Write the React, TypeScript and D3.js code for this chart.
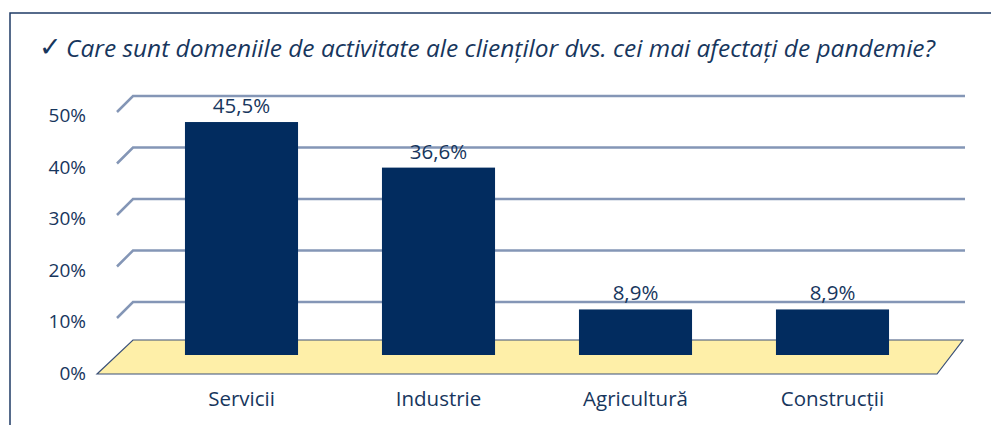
import { useRef, useEffect } from 'react';
import * as d3 from 'd3';

const categories = ['Servicii', 'Industrie', 'Agricultură', 'Construcții'];
const values = [45.5, 36.6, 8.9, 8.9];
const yTicks = [0, 10, 20, 30, 40, 50];
const title = 'Care sunt domeniile de activitate ale clienților dvs. cei mai afectați de pandemie?';

const navy = '#022C5F';
const textBlue = '#17365D';
const gridColor = '#8496B6';
const font = '"Open Sans", sans-serif';

export default function App() {
  const svgRef = useRef<SVGSVGElement>(null);

  useEffect(() => {
    const w = 991;
    const h = 425;
    const svg = d3.select(svgRef.current).attr('width', w).attr('height', h);
    svg.selectAll('*').remove();

    // frame
    svg
      .append('path')
      .attr('d', `M10,${h} L10,13 L${w},13`)
      .attr('fill', 'none')
      .attr('stroke', '#1F3B66')
      .attr('stroke-width', 1.5);

    // title
    svg
      .append('text')
      .attr('x', 39)
      .attr('y', 56)
      .attr('font-family', '"DejaVu Sans", sans-serif')
      .attr('font-size', 27)
      .attr('fill', textBlue)
      .text('✓');
    svg
      .append('text')
      .attr('x', 66)
      .attr('y', 57)
      .attr('font-family', font)
      .attr('font-style', 'italic')
      .attr('font-size', 23.5)
      .attr('fill', textBlue)
      .attr('textLength', 869)
      .attr('lengthAdjust', 'spacingAndGlyphs')
      .text(title);

    // scales: back wall and bars
    const yBack = d3.scaleLinear().domain([0, 50]).range([353.5, 96]);
    const yBar = d3.scaleLinear().domain([0, 50]).range([355, 99]);
    const x = d3
      .scaleBand()
      .domain(categories)
      .range([143, 931])
      .paddingInner(0.426)
      .paddingOuter(0.213);

    const depthX = 16;
    const depthY = 16;
    const wallLeft = 133;
    const wallRight = 965;

    // gridlines
    svg
      .selectAll()
      .data(yTicks.filter((t) => t > 0))
      .enter()
      .append('path')
      .attr(
        'd',
        (d) =>
          `M${wallLeft - depthX},${yBack(d) + depthY} L${wallLeft},${yBack(d)} L${wallRight},${yBack(d)}`
      )
      .attr('fill', 'none')
      .attr('stroke', gridColor)
      .attr('stroke-width', 2.5);

    // floor
    svg
      .append('path')
      .attr('d', 'M97,374 L133,340 L963,340 L937,374 Z')
      .attr('fill', '#FEEFA8')
      .attr('stroke', '#3A5078')
      .attr('stroke-width', 1.2);

    // y tick labels
    svg
      .selectAll()
      .data(yTicks)
      .enter()
      .append('text')
      .attr('x', 86)
      .attr('y', (d) => yBack(d) + depthY + 3)
      .attr('text-anchor', 'end')
      .attr('dominant-baseline', 'central')
      .attr('font-family', font)
      .attr('font-size', 19)
      .attr('fill', textBlue)
      .text((d) => d + '%');

    // bars
    svg
      .selectAll()
      .data(values)
      .enter()
      .append('rect')
      .attr('x', (d, i) => x(categories[i]))
      .attr('y', (d) => yBar(d))
      .attr('width', x.bandwidth())
      .attr('height', (d) => yBar(0) - yBar(d))
      .attr('fill', navy);

    const fmt = d3.formatLocale({
      decimal: ',',
      thousands: '.',
      grouping: [3],
      currency: ['', ''],
    }).format('.1f');

    // value labels
    svg
      .selectAll()
      .data(values)
      .enter()
      .append('text')
      .attr('x', (d, i) => x(categories[i]) + x.bandwidth() / 2)
      .attr('y', (d) => yBar(d) - 9)
      .attr('text-anchor', 'middle')
      .attr('font-family', font)
      .attr('font-size', 20.5)
      .attr('fill', textBlue)
      .text((d) => fmt(d) + '%');

    // category labels
    svg
      .selectAll()
      .data(categories)
      .enter()
      .append('text')
      .attr('x', (d) => x(d) + x.bandwidth() / 2)
      .attr('y', 406)
      .attr('text-anchor', 'middle')
      .attr('font-family', font)
      .attr('font-size', 20.5)
      .attr('fill', textBlue)
      .text((d) => d);
  }, []);

  return (
    <svg
      ref={svgRef}
      style={{ position: 'absolute', left: 0, top: 0, background: '#fff' }}
    ></svg>
  );
}
